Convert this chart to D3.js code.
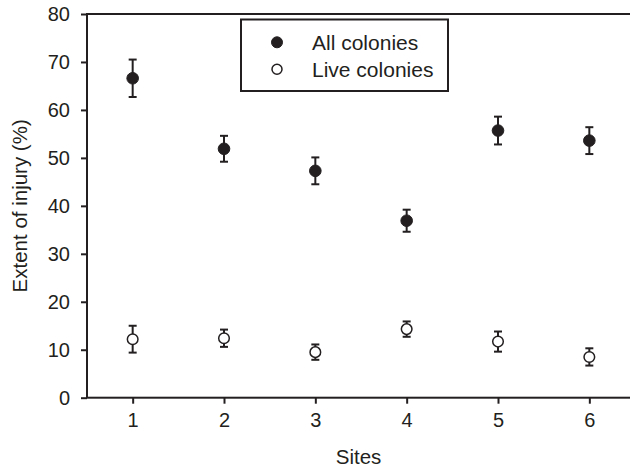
<!DOCTYPE html>
<html>
<head>
<meta charset="utf-8">
<script src="https://cdn.jsdelivr.net/npm/d3@7"></script>
<style>
  body { margin: 0; background: #fff; }
  text { font-family: 'Liberation Sans', Arial, sans-serif; fill: #231f20; }
</style>
</head>
<body>
<div id="chart"></div>
<script>
const sites = [1, 2, 3, 4, 5, 6];
const allMean = [66.6, 51.9, 47.3, 36.9, 55.7, 53.6];
const allErr = [3.9, 2.7, 2.8, 2.3, 2.9, 2.8];
const liveMean = [12.2, 12.4, 9.5, 14.3, 11.7, 8.5];
const liveErr = [2.8, 1.8, 1.6, 1.6, 2.1, 1.8];
const yTicks = [0, 10, 20, 30, 40, 50, 60, 70, 80];
const seriesNames = ["All colonies", "Live colonies"];

const W = 630, H = 467;
const margin = { left: 87, top: 14, right: -5, bottom: 69 };
const ink = "#231f20";

const svg = d3.select("#chart").append("svg")
    .attr("width", W)
    .attr("height", H);

const x = d3.scaleLinear().domain([0.5, 6.5]).range([margin.left, W - margin.right]);
const y = d3.scaleLinear().domain([0, 80]).range([H - margin.bottom - 0.3, margin.top]);

// frame (top line + left/bottom axes; right edge falls outside the window)
svg.append("rect")
    .attr("x", x(0.5))
    .attr("y", y(80))
    .attr("width", x(6.5) - x(0.5))
    .attr("height", y(0) - y(80))
    .attr("fill", "none")
    .attr("stroke", ink)
    .attr("stroke-width", 2);

const xAxis = svg.append("g")
    .attr("transform", `translate(0,${y(0)})`)
    .call(d3.axisBottom(x).tickValues(sites).tickSize(6).tickPadding(9).tickFormat(d3.format("d")));
const yAxis = svg.append("g")
    .attr("transform", `translate(${x(0.5)},0)`)
    .call(d3.axisLeft(y).tickValues(yTicks).tickSize(6).tickPadding(11));

[xAxis, yAxis].forEach(g => {
    g.select(".domain").remove();
    g.selectAll(".tick line").attr("stroke", ink).attr("stroke-width", 2);
    g.selectAll(".tick text").style("font-size", "20px").attr("fill", ink)
        .style("font-family", "'Liberation Sans', Arial, sans-serif");
});

// axis titles
svg.append("text")
    .attr("x", (x(0.5) + W) / 2)
    .attr("y", 464)
    .attr("text-anchor", "middle")
    .style("font-size", "20.5px")
    .text("Sites");

svg.append("text")
    .attr("transform", `translate(27,${(y(0) + y(80)) / 2}) rotate(-90)`)
    .attr("text-anchor", "middle")
    .style("font-size", "20.5px")
    .text("Extent of injury (%)");

// error bars + points
function drawSeries(means, errs, filled, r) {
    const g = svg.append("g");
    sites.forEach((s, i) => {
        const cx = x(s);
        const top = y(means[i] + errs[i]);
        const bot = y(means[i] - errs[i]);
        g.append("line").attr("x1", cx).attr("x2", cx).attr("y1", top).attr("y2", bot)
            .attr("stroke", ink).attr("stroke-width", 2);
        [top, bot].forEach(yy => {
            g.append("line").attr("x1", cx - 4).attr("x2", cx + 4).attr("y1", yy).attr("y2", yy)
                .attr("stroke", ink).attr("stroke-width", 2);
        });
        g.append("circle")
            .attr("cx", cx)
            .attr("cy", y(means[i]))
            .attr("r", r)
            .attr("fill", filled ? ink : "#fff")
            .attr("stroke", ink)
            .attr("stroke-width", filled ? 1 : 1.5);
    });
}
drawSeries(allMean, allErr, true, 5.8);
drawSeries(liveMean, liveErr, false, 5.3);

// legend
const lg = svg.append("g");
lg.append("rect")
    .attr("x", 241).attr("y", 19.5)
    .attr("width", 207).attr("height", 71.5)
    .attr("fill", "#fff")
    .attr("stroke", ink)
    .attr("stroke-width", 2);
seriesNames.forEach((name, i) => {
    const yy = 42.3 + i * 27;
    lg.append("circle")
        .attr("cx", 277).attr("cy", yy)
        .attr("r", i === 0 ? 5.5 : 5)
        .attr("fill", i === 0 ? ink : "#fff")
        .attr("stroke", ink)
        .attr("stroke-width", i === 0 ? 1 : 1.5);
    lg.append("text")
        .attr("x", 312)
        .attr("y", yy + 7.5)
        .style("font-size", "21px")
        .text(name);
});
</script>
</body>
</html>
